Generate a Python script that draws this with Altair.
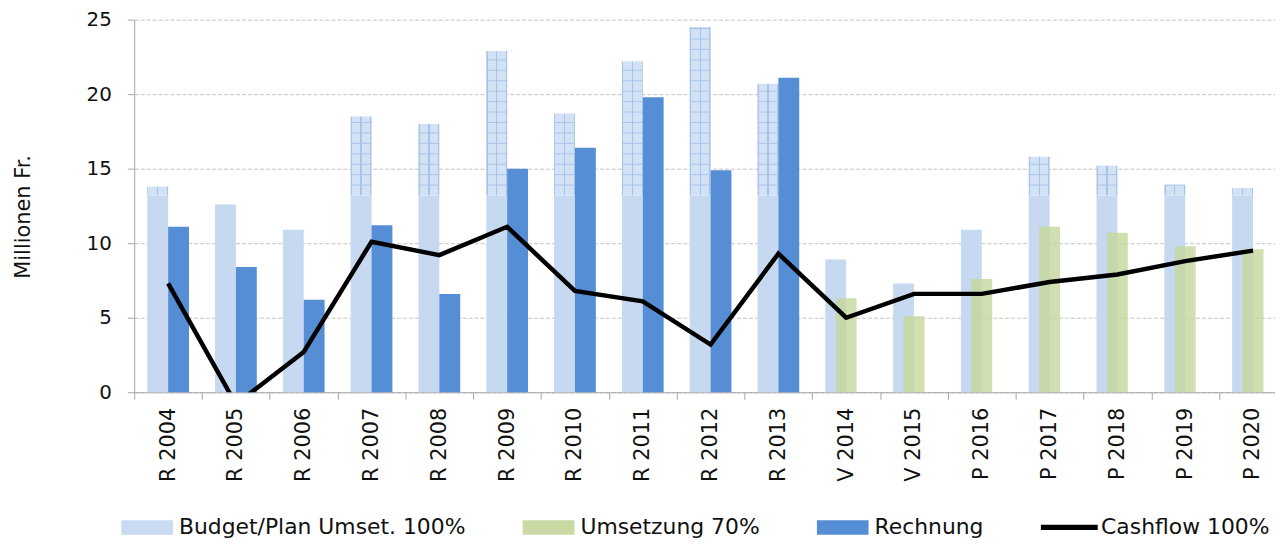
import altair as alt
import pandas as pd

cats = ["R 2004", "R 2005", "R 2006", "R 2007", "R 2008", "R 2009", "R 2010", "R 2011",
        "R 2012", "R 2013", "V 2014", "V 2015", "P 2016", "P 2017", "P 2018", "P 2019", "P 2020"]
budget = [13.8, 12.6, 10.9, 18.5, 18.0, 22.9, 18.7, 22.2, 24.5, 20.7, 8.9, 7.3, 10.9, 15.8, 15.2, 13.9, 13.7]
rechnung = [11.1, 8.4, 6.2, 11.2, 6.6, 15.0, 16.4, 19.8, 14.9, 21.1,
            None, None, None, None, None, None, None]
umsetzung = [None, None, None, None, None, None, None, None, None, None,
             6.3, 5.1, 7.6, 11.1, 10.7, 9.8, 9.6]
cashflow = [7.3, -0.8, 2.7, 10.1, 9.2, 11.1, 6.8, 6.1, 3.2, 9.3, 5.0, 6.6, 6.6, 7.4, 7.9, 8.8, 9.5]

series = ["Budget/Plan Umset. 100%", "Umsetzung 70%", "Rechnung", "Cashflow 100%"]
series_colors = ["#c9daf2", "#c8d9a3", "#558ed5", "#000000"]
series_shapes = ["M-1,-0.28h2v0.56h-2z", "M-1,-0.28h2v0.56h-2z", "M-1,-0.28h2v0.56h-2z",
                 "M-1.1,-0.1h2.2v0.2h-2.2z"]

df = pd.DataFrame({"cat": cats, "budget": budget, "rechnung": rechnung,
                   "umsetzung": umsetzung, "cashflow": cashflow})
legend_df = pd.DataFrame({"series": series, "v": [None] * len(series)})

FONT = "DejaVu Sans"
SOLID_TOP = 13.2
BW = 21

xenc = alt.X("cat:N", sort=cats, title=None,
             scale=alt.Scale(paddingInner=0, paddingOuter=0),
             axis=alt.Axis(labelAngle=-90, labelFontSize=21, labelColor="#111111",
                           labelFont=FONT, labelPadding=8, tickBand="extent", tickSize=7,
                           tickColor="#a6a6a6", domainColor="#a6a6a6", grid=False))
yscale = alt.Scale(domain=[0, 25], nice=False, zero=True)
yaxis = alt.Axis(values=[0, 5, 10, 15, 20, 25], labelFontSize=20, labelColor="#111111",
                 labelFont=FONT, labelPadding=16, tickSize=7, tickColor="#a6a6a6",
                 domainColor="#a6a6a6",
                 grid=True, gridColor="#c4c4c4", gridDash=[4, 2], gridWidth=1,
                 title="Millionen Fr.", titleFontSize=21, titleFontWeight="normal",
                 titleFont=FONT, titleColor="#111111", titleX=-111, titleY=198,
                 titleAngle=270, titleBaseline="middle", titleAlign="center")

base = alt.Chart(df)

pattern_fill = alt.LinearGradient(
    gradient="linear", x1=0, x2=1, y1=0, y2=0,
    stops=[alt.GradientStop(offset=0, color="#a9c4ea"),
           alt.GradientStop(offset=0.06, color="#a9c4ea"),
           alt.GradientStop(offset=0.06, color="#d3e1f4"),
           alt.GradientStop(offset=0.47, color="#d3e1f4"),
           alt.GradientStop(offset=0.47, color="#a9c4ea"),
           alt.GradientStop(offset=0.53, color="#a9c4ea"),
           alt.GradientStop(offset=0.53, color="#d3e1f4"),
           alt.GradientStop(offset=0.94, color="#d3e1f4"),
           alt.GradientStop(offset=0.94, color="#a9c4ea"),
           alt.GradientStop(offset=1, color="#a9c4ea")])

pattern = base.transform_filter(f"datum.budget > {SOLID_TOP}").transform_calculate(
    lo=f"{SOLID_TOP}"
).mark_bar(width=BW, xOffset=-BW / 2, color=pattern_fill).encode(
    x=xenc, y=alt.Y("lo:Q", scale=yscale, axis=yaxis), y2="budget:Q")

hlines = base.transform_filter(f"datum.budget > {SOLID_TOP}").transform_calculate(
    lines=f"sequence({SOLID_TOP} + 0.7, datum.budget, 0.7)"
).transform_flatten(["lines"]).mark_tick(
    size=BW, thickness=1, xOffset=-BW / 2, color="#a9c4ea", opacity=1
).encode(x=xenc, y=alt.Y("lines:Q", scale=yscale, axis=yaxis))

solid = base.transform_calculate(
    top=f"min(datum.budget, {SOLID_TOP})", z="0"
).mark_bar(width=BW, xOffset=-BW / 2, color="#c6d9f1").encode(
    x=xenc, y=alt.Y("z:Q", scale=yscale, axis=yaxis), y2="top:Q")

rech = base.transform_filter("isValid(datum.rechnung)").mark_bar(
    width=BW, xOffset=BW / 2, color="#558ed5").encode(
    x=xenc, y=alt.Y("rechnung:Q", scale=yscale, axis=yaxis))

ums = base.transform_filter("isValid(datum.umsetzung)").mark_bar(
    width=BW, xOffset=0, color="#c4d79b", opacity=0.8).encode(
    x=xenc, y=alt.Y("umsetzung:Q", scale=yscale, axis=yaxis))

line = base.mark_line(color="#000000", strokeWidth=4.5, clip=True).encode(
    x=xenc, y=alt.Y("cashflow:Q", scale=yscale, axis=yaxis))

leg_props = dict(title=None, orient="none", legendX=-13, legendY=485, direction="horizontal",
                 columns=4, columnPadding=57, labelOffset=6, labelFontSize=22,
                 labelFont=FONT, labelColor="#111111", labelLimit=600, symbolSize=2704,
                 symbolStrokeWidth=0, padding=0, offset=0)
legend_layer = alt.Chart(legend_df).mark_point(filled=True, opacity=1).encode(
    y=alt.Y("v:Q", scale=yscale, axis=yaxis),
    color=alt.Color("series:N", sort=series,
                    scale=alt.Scale(domain=series, range=series_colors),
                    legend=alt.Legend(**leg_props)),
    shape=alt.Shape("series:N", sort=series,
                    scale=alt.Scale(domain=series, range=series_shapes),
                    legend=alt.Legend(**leg_props)),
)

chart = alt.layer(pattern, hlines, solid, rech, ums, line, legend_layer).properties(
    width=1160, height=375,
    autosize=alt.AutoSizeParams(type="none"),
    padding={"left": 127, "top": 10, "right": -12, "bottom": 151},
).configure(font=FONT).configure_view(stroke=None)

chart.save("out.html", embed_options={"renderer": "svg", "actions": False})
